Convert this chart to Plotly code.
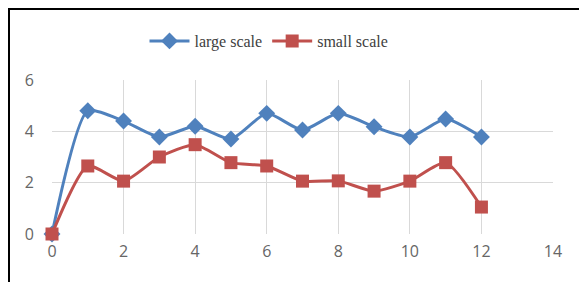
import plotly.graph_objects as go

x_vals = [0, 1, 2, 3, 4, 5, 6, 7, 8, 9, 10, 11, 12]
large_scale = [0, 4.8, 4.4, 3.78, 4.2, 3.7, 4.7, 4.05, 4.7, 4.18, 3.78, 4.48, 3.78]
small_scale = [0, 2.65, 2.06, 3.0, 3.48, 2.78, 2.65, 2.06, 2.07, 1.67, 2.06, 2.78, 1.05]
x_ticks = [0, 2, 4, 6, 8, 10, 12, 14]
y_ticks = [0, 2, 4, 6]

fig = go.Figure()
fig.add_trace(go.Scatter(
    x=x_vals, y=large_scale, name="large scale", mode="lines+markers",
    line=dict(color="#4F81BD", width=3, shape="spline", smoothing=0.6),
    marker=dict(symbol="diamond", size=13, color="#4F81BD"),
    cliponaxis=False))
fig.add_trace(go.Scatter(
    x=x_vals, y=small_scale, name="small scale", mode="lines+markers",
    line=dict(color="#C0504D", width=3, shape="spline", smoothing=0.6),
    marker=dict(symbol="square", size=13, color="#C0504D"),
    cliponaxis=False))

L, R, T, B = 44, 42, 72, 56
pw, ph = 587 - L - R, 282 - T - B

fig.update_layout(
    width=587, height=282,
    margin=dict(l=L, r=R, t=T, b=B, autoexpand=False),
    paper_bgcolor="white", plot_bgcolor="white",
    showlegend=True,
    legend=dict(orientation="h", x=(261 - L) / pw, xanchor="center", y=1 - 33 / 282, yanchor="middle",
                yref="container", bgcolor="rgba(0,0,0,0)",
                font=dict(family="Liberation Serif", size=16, color="#404040"),
                itemwidth=40, tracegroupgap=0),
    xaxis=dict(range=[0, 14], tickvals=x_ticks, showgrid=True, gridcolor="#D9D9D9",
               gridwidth=1, zeroline=False, showline=False, ticks="",
               ticklabelstandoff=6,
               tickfont=dict(family="Open Sans", size=16, color="#666666")),
    yaxis=dict(range=[0, 6], tickvals=y_ticks, showgrid=True, gridcolor="#D9D9D9",
               gridwidth=1, zeroline=False, showline=False, ticks="",
               ticklabelstandoff=17,
               tickfont=dict(family="Open Sans", size=16, color="#666666")),
    shapes=[dict(type="rect", xref="paper", yref="paper",
                 x0=-(L - 1) / pw, x1=1.3, y0=-0.6, y1=1 + (T - 1) / ph,
                 line=dict(color="black", width=2), fillcolor="rgba(0,0,0,0)",
                 layer="below")],
)

fig.write_html("out.html")
